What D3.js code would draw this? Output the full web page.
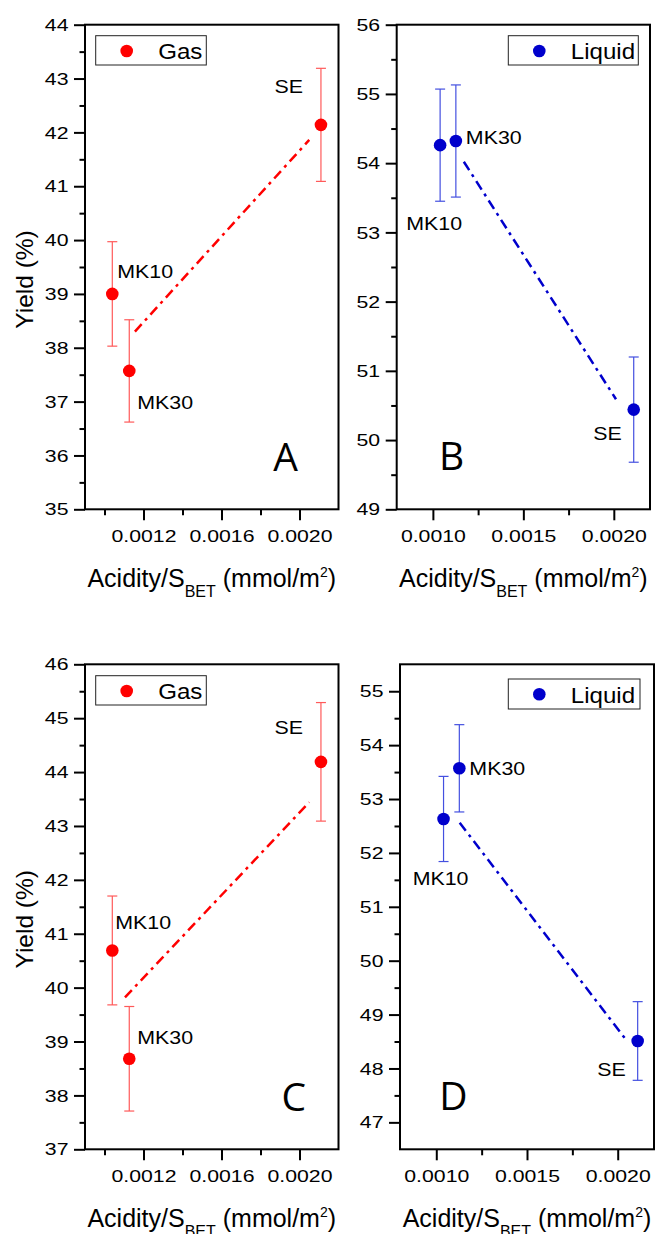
<!DOCTYPE html>
<html>
<head>
<meta charset="utf-8">
<script src="https://cdn.jsdelivr.net/npm/d3@7"></script>
<style>
  body { margin: 0; background: #fff; }
  svg { display: block; }
  text { font-family: "Liberation Sans", Arial, sans-serif; fill: #000; }
</style>
</head>
<body>
<svg id="chart" width="655" height="1234"></svg>
<script>
// samples and their acidity per BET surface (mmol/m2)
const samples = ["MK10", "MK30", "SE"];
const acidity = [0.00104, 0.001127, 0.00211];

// yields (%) with their error bars, one pair per panel
const gasYieldA = [39.0, 37.57, 42.14];
const gasErrA = [0.97, 0.95, 1.05];
const liquidYieldB = [54.26, 54.32, 50.44];
const liquidErrB = [0.81, 0.81, 0.76];
const gasYieldC = [40.69, 38.68, 44.19];
const gasErrC = [1.01, 0.97, 1.10];
const liquidYieldD = [52.63, 53.57, 48.51];
const liquidErrD = [0.79, 0.81, 0.73];

// dash-dot trend lines (start / end)
const trendXA = [0.001156, 0.00205], trendYA = [38.30, 41.86];
const trendXB = [0.001171, 0.002012], trendYB = [54.02, 50.59];
const trendXC = [0.001105, 0.00205], trendYC = [39.82, 43.44];
const trendXD = [0.001129, 0.002051], trendYD = [52.56, 48.51];

// ticks
const xMajorAC = [0.0012, 0.0016, 0.0020];
const xMinorAC = [0.0010, 0.0014, 0.0018];
const xMajorBD = [0.0010, 0.0015, 0.0020];
const xMinorBD = [0.00125, 0.00175];
const yMajorA = [35, 36, 37, 38, 39, 40, 41, 42, 43, 44];
const yMinorA = [35.5, 36.5, 37.5, 38.5, 39.5, 40.5, 41.5, 42.5, 43.5];
const yMajorB = [49, 50, 51, 52, 53, 54, 55, 56];
const yMinorB = [49.5, 50.5, 51.5, 52.5, 53.5, 54.5, 55.5];
const yMajorC = [37, 38, 39, 40, 41, 42, 43, 44, 45, 46];
const yMinorC = [37.5, 38.5, 39.5, 40.5, 41.5, 42.5, 43.5, 44.5, 45.5];
const yMajorD = [47, 48, 49, 50, 51, 52, 53, 54, 55];
const yMinorD = [47.5, 48.5, 49.5, 50.5, 51.5, 52.5, 53.5, 54.5];

const RED = "#ff0000", RED_BAR = "#ff5a5a";
const BLUE = "#0000cc", BLUE_BAR = "#4450e0";

const panels = [
  { key: "A", legend: "Gas", yields: gasYieldA, errs: gasErrA, tx: trendXA, ty: trendYA,
    color: RED, bar: RED_BAR, box: [85, 338.5, 24.7, 509.3],
    xDomain: [0.0009, 0.0022], yDomain: [35, 44],
    xMajor: xMajorAC, xMinor: xMinorAC, yMajor: yMajorA, yMinor: yMinorA,
    yTitle: true, legendBox: [95.7, 35.7, 110.6, 29.3], letterAt: [285.5, 470.7],
    labelAt: [[5, -16, "start"], [8, 38, "start"], [-18, -32, "end"]] },
  { key: "B", legend: "Liquid", yields: liquidYieldB, errs: liquidErrB, tx: trendXB, ty: trendYB,
    color: BLUE, bar: BLUE_BAR, box: [396.7, 650, 24.7, 509.3],
    xDomain: [0.0008, 0.0022], yDomain: [49, 56],
    xMajor: xMajorBD, xMinor: xMinorBD, yMajor: yMajorB, yMinor: yMinorB,
    yTitle: false, legendBox: [508.3, 35.7, 130, 29.3], letterAt: [451.7, 470],
    labelAt: [[-6, 85, "middle"], [10, 3, "start"], [-12, 30, "end"]] },
  { key: "C", legend: "Gas", yields: gasYieldC, errs: gasErrC, tx: trendXC, ty: trendYC,
    color: RED, bar: RED_BAR, box: [85, 338.5, 664.3, 1149.3],
    xDomain: [0.0009, 0.0022], yDomain: [37, 46],
    xMajor: xMajorAC, xMinor: xMinorAC, yMajor: yMajorC, yMinor: yMinorC,
    yTitle: true, legendBox: [95.7, 675.7, 110.6, 29.3], letterAt: [293.8, 1110.7],
    labelAt: [[3, -21, "start"], [8, -15, "start"], [-18, -28, "end"]] },
  { key: "D", legend: "Liquid", yields: liquidYieldD, errs: liquidErrD, tx: trendXD, ty: trendYD,
    color: BLUE, bar: BLUE_BAR, box: [400, 654, 664.3, 1149.3],
    xDomain: [0.0008, 0.0022], yDomain: [46.5, 55.5],
    xMajor: xMajorBD, xMinor: xMinorBD, yMajor: yMajorD, yMinor: yMinorD,
    yTitle: false, legendBox: [508.3, 679, 131.7, 30], letterAt: [453.3, 1110],
    labelAt: [[-3, 66, "middle"], [10, 7, "start"], [-12, 35, "end"]] },
];

const svg = d3.select("#chart");

// tick labels in the figure are drawn a bit wider than normal
const TICK_SX = 1.25, LABEL_SX = 1.15, LEGEND_SX = 1.07;

const styleAxis = (sel) => {
  sel.select(".domain").remove();
  sel.selectAll(".tick line").attr("stroke", "#000").attr("stroke-width", 2);
};

const drawPanel = (p) => {
  const [x0, x1, y0, y1] = p.box;
  const x = d3.scaleLinear().domain(p.xDomain).range([x0, x1]);
  const y = d3.scaleLinear().domain(p.yDomain).range([y1, y0]);
  const g = svg.append("g").attr("class", "panel-" + p.key);

  // minor ticks
  g.append("g").attr("transform", `translate(0,${y1})`)
    .call(d3.axisBottom(x).tickValues(p.xMinor).tickSize(6).tickFormat(""))
    .call(styleAxis);
  g.append("g").attr("transform", `translate(${x0},0)`)
    .call(d3.axisLeft(y).tickValues(p.yMinor).tickSize(5.5).tickFormat(""))
    .call(styleAxis);

  // major ticks + labels
  const xAx = g.append("g").attr("transform", `translate(0,${y1})`)
    .call(d3.axisBottom(x).tickValues(p.xMajor).tickSize(11).tickFormat(d3.format(".4f")))
    .call(styleAxis);
  xAx.selectAll(".tick text")
    .attr("y", 0).attr("dy", 0)
    .attr("font-size", 17).attr("font-family", null)
    .attr("transform", `translate(0,33) scale(${TICK_SX},1)`);

  const yAx = g.append("g").attr("transform", `translate(${x0},0)`)
    .call(d3.axisLeft(y).tickValues(p.yMajor).tickSize(11).tickFormat(d3.format("d")))
    .call(styleAxis);
  yAx.selectAll(".tick text")
    .attr("x", 0).attr("dy", "0.33em")
    .attr("font-size", 17).attr("font-family", null)
    .attr("transform", `translate(-16.5,0) scale(${TICK_SX},1)`);

  // frame
  g.append("rect")
    .attr("x", x0).attr("y", y0)
    .attr("width", x1 - x0).attr("height", y1 - y0)
    .attr("fill", "none").attr("stroke", "#000").attr("stroke-width", 2);

  // trend line
  const trend = p.tx.map((d, i) => [d, p.ty[i]]);
  g.append("path")
    .datum(trend)
    .attr("d", d3.line().x((d) => x(d[0])).y((d) => y(d[1])))
    .attr("fill", "none")
    .attr("stroke", p.color)
    .attr("stroke-width", 2.5)
    .attr("stroke-dasharray", "10,5,3,5");

  const pts = samples.map((name, i) => ({
    name, ax: acidity[i], v: p.yields[i], e: p.errs[i], off: p.labelAt[i],
  }));

  // error bars
  const bars = g.append("g").attr("stroke", p.bar).attr("stroke-width", 1.2);
  pts.forEach((d) => {
    const cx = x(d.ax);
    bars.append("line").attr("x1", cx).attr("x2", cx)
      .attr("y1", y(d.v - d.e)).attr("y2", y(d.v + d.e));
    [d.v - d.e, d.v + d.e].forEach((v) => {
      bars.append("line").attr("x1", cx - 5).attr("x2", cx + 5)
        .attr("y1", y(v)).attr("y2", y(v));
    });
  });

  // markers
  g.selectAll(".pt").data(pts).join("circle")
    .attr("class", "pt")
    .attr("cx", (d) => x(d.ax)).attr("cy", (d) => y(d.v))
    .attr("r", 6.3).attr("fill", p.color);

  // point labels
  g.selectAll(".lbl").data(pts).join("text")
    .attr("class", "lbl")
    .attr("text-anchor", (d) => d.off[2])
    .attr("font-size", 18.6)
    .attr("transform", (d) =>
      `translate(${x(d.ax) + d.off[0]},${y(d.v) + d.off[1]}) scale(${LABEL_SX},1)`)
    .text((d) => d.name);

  // legend
  const [lx, ly, lw, lh] = p.legendBox;
  g.append("rect").attr("x", lx).attr("y", ly).attr("width", lw).attr("height", lh)
    .attr("fill", "#fff").attr("stroke", "#222").attr("stroke-width", 1);
  g.append("circle").attr("cx", lx + 31).attr("cy", ly + 15.3)
    .attr("r", 6.3).attr("fill", p.color);
  g.append("text")
    .attr("font-size", 22.5)
    .attr("transform", `translate(${lx + 62.5},${ly + 23.6}) scale(${LEGEND_SX},1)`)
    .text(p.legend);

  // panel letter
  g.append("text")
    .attr("x", p.letterAt[0]).attr("y", p.letterAt[1])
    .attr("text-anchor", "middle")
    .style("font-family", '"Open Sans", sans-serif')
    .attr("font-size", 39)
    .text(p.key);

  // x title
  const xt = g.append("text")
    .attr("x", (x0 + x1) / 2).attr("y", y1 + 78)
    .attr("text-anchor", "middle")
    .attr("font-size", 25);
  xt.append("tspan").text("Acidity/S");
  xt.append("tspan").attr("font-size", 16).attr("dy", 10).text("BET");
  xt.append("tspan").attr("dy", -10).text(" (mmol/m");
  xt.append("tspan").attr("font-size", 14).attr("dy", -10).text("2");
  xt.append("tspan").attr("dy", 10).text(")");

  // y title
  if (p.yTitle) {
    g.append("text")
      .attr("transform", `translate(32.7,${(y0 + y1) / 2 + 12.5}) rotate(-90)`)
      .attr("text-anchor", "middle")
      .attr("font-size", 24.5)
      .text("Yield (%)");
  }
};

panels.forEach(drawPanel);
</script>
</body>
</html>
